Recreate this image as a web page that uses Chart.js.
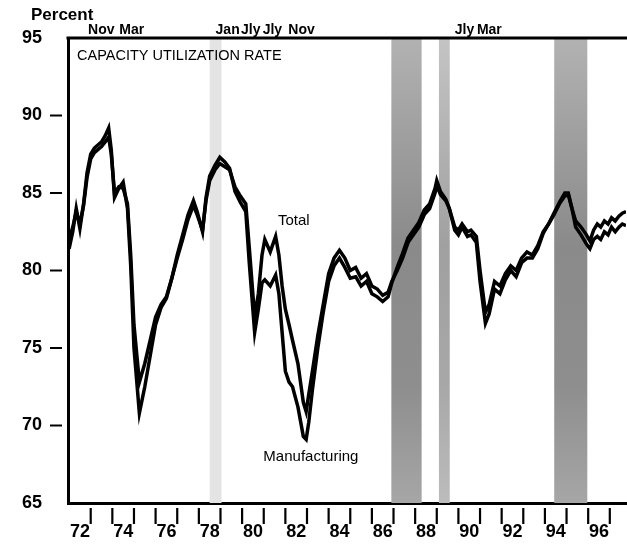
<!DOCTYPE html>
<html><head><meta charset="utf-8">
<script src="https://cdn.jsdelivr.net/npm/chart.js@4.4.0/dist/chart.umd.min.js"></script>
<style>html,body{margin:0;padding:0;background:#fff;overflow:hidden}#wrap{width:627px;height:548px;position:relative}</style>
</head><body><div id="wrap"><canvas id="c" width="627" height="548"></canvas></div>
<script>
// ---- data ----
const dates = [1972.00,1972.17,1972.33,1972.50,1972.67,1972.83,1973.00,1973.17,1973.33,1973.50,1973.67,1973.83,1973.95,1974.10,1974.30,1974.50,1974.70,1974.85,1975.00,1975.25,1975.50,1975.75,1976.00,1976.25,1976.50,1976.75,1977.00,1977.25,1977.50,1977.75,1977.92,1978.17,1978.33,1978.50,1978.75,1978.97,1979.20,1979.42,1979.67,1979.92,1980.17,1980.33,1980.58,1980.75,1980.92,1981.05,1981.30,1981.55,1981.70,1981.85,1982.00,1982.17,1982.33,1982.58,1982.83,1982.96,1983.08,1983.25,1983.50,1983.75,1984.00,1984.25,1984.50,1984.75,1985.00,1985.25,1985.50,1985.75,1986.00,1986.25,1986.50,1986.75,1986.92,1987.17,1987.42,1987.67,1987.92,1988.17,1988.42,1988.67,1988.92,1989.00,1989.17,1989.42,1989.58,1989.83,1990.00,1990.17,1990.42,1990.58,1990.83,1991.00,1991.25,1991.42,1991.67,1991.92,1992.17,1992.42,1992.67,1992.92,1993.17,1993.42,1993.67,1993.92,1994.17,1994.42,1994.67,1994.92,1995.08,1995.25,1995.42,1995.67,1995.92,1996.08,1996.25,1996.42,1996.58,1996.75,1996.92,1997.08,1997.25,1997.42,1997.58,1997.75];
const total = [82.0,82.8,83.8,83.0,84.2,86.0,87.2,87.6,87.8,88.0,88.3,88.6,87.5,85.0,85.4,85.3,84.3,81.0,76.5,72.8,74.0,75.5,77.0,77.8,78.3,79.5,80.8,82.0,83.3,84.2,83.6,82.6,84.5,85.8,86.5,86.9,86.7,86.5,85.4,84.8,84.3,81.5,77.0,78.5,81.0,82.0,81.2,82.2,81.0,79.0,77.5,76.5,75.5,74.0,71.5,70.9,72.0,73.5,75.8,77.8,79.8,80.8,81.3,80.8,80.0,80.2,79.5,79.8,79.0,78.8,78.4,78.6,79.3,80.0,80.8,81.8,82.3,82.8,83.6,84.0,85.0,85.5,84.9,84.5,84.0,82.8,82.6,83.0,82.5,82.6,82.2,80.0,77.3,77.8,79.3,79.0,79.8,80.3,80.0,80.8,81.2,81.0,81.6,82.5,83.0,83.6,84.3,84.8,84.9,84.0,83.2,82.8,82.3,81.9,82.6,83.0,82.8,83.2,83.0,83.4,83.2,83.5,83.7,83.8];
const manufacturing = [81.4,82.5,84.0,82.7,84.3,86.3,87.5,87.9,88.1,88.3,88.7,89.2,87.8,84.7,85.3,85.7,84.0,80.3,75.0,70.8,72.5,74.5,76.5,77.6,78.2,79.5,81.0,82.3,83.6,84.5,83.8,82.5,84.7,86.1,86.8,87.3,87.0,86.6,85.1,84.4,83.8,80.5,76.0,77.5,79.2,79.4,79.0,79.7,78.5,76.0,73.5,72.8,72.5,71.2,69.3,69.1,70.2,72.3,75.0,77.3,79.3,80.3,80.8,80.2,79.5,79.6,79.0,79.3,78.5,78.3,78.0,78.3,79.2,80.2,81.1,82.1,82.6,83.1,83.9,84.3,85.3,85.8,85.1,84.6,84.0,82.6,82.3,82.8,82.2,82.3,81.8,79.3,76.6,77.2,78.8,78.5,79.4,80.0,79.6,80.5,80.8,80.8,81.4,82.4,83.0,83.7,84.4,85.0,85.0,84.0,82.8,82.3,81.7,81.4,82.0,82.2,82.0,82.5,82.3,82.8,82.5,82.8,83.0,82.9];
const yTickValues = [65,70,75,80,85,90,95];
const yTickLabels = ['65','70','75','80','85','90','95'];
const xLabelYears = [1972,1974,1976,1978,1980,1982,1984,1986,1988,1990,1992,1994,1996];
const xTickLabels = ['72','74','76','78','80','82','84','86','88','90','92','94','96'];
const yearTickMarks = [1973,1974,1975,1976,1977,1978,1979,1980,1981,1982,1983,1984,1985,1986,1987,1988,1989,1990,1991,1992,1993,1994,1995,1996,1997];
const bandStart = [1978.50,1986.90,1989.10,1994.43];
const bandEnd   = [1979.05,1988.30,1989.60,1995.96];
const eventText = ['Nov','Mar','Jan','Jly','Jly','Nov','Jly','Mar'];
const eventYear = [1973.49,1974.90,1979.33,1980.40,1981.40,1982.75,1990.28,1991.43];
const seriesNames = ['Total','Manufacturing'];
const seriesNameX = [1982.39,1983.18];
const seriesNameY = [83.2,68.0];
const chartTitle = 'CAPACITY UTILIZATION RATE';
const unitLabel = 'Percent';

// ---- styles ----
const FONT = "'Liberation Sans', Arial, Helvetica, sans-serif";
const bandStyles = ['light','dark','mid','dark'];

const decor = {
  id: 'decor',
  beforeDatasetsDraw(chart) {
    const {ctx, chartArea: a, scales: {x}} = chart;
    ctx.save();
    for (let i = 0; i < bandStart.length; i++) {
      const x1 = x.getPixelForValue(bandStart[i]);
      const x2 = x.getPixelForValue(bandEnd[i]);
      let fill;
      if (bandStyles[i] === 'light') {
        fill = '#e4e4e4';
      } else {
        const g = ctx.createLinearGradient(0, a.top, 0, a.bottom);
        const d = bandStyles[i] === 'dark';
        g.addColorStop(0, d ? '#b2b2b2' : '#c4c4c4');
        g.addColorStop(0.45, d ? '#8a8a8a' : '#a0a0a0');
        g.addColorStop(0.75, d ? '#8e8e8e' : '#a8a8a8');
        g.addColorStop(1, d ? '#a6a6a6' : '#bcbcbc');
        fill = g;
      }
      ctx.fillStyle = fill;
      ctx.fillRect(x1, a.top, x2 - x1, a.bottom - a.top);
    }
    ctx.restore();
  },
  afterDraw(chart) {
    const {ctx, chartArea: a, scales: {x, y}} = chart;
    ctx.save();
    ctx.strokeStyle = '#000';
    // top frame line
    ctx.lineWidth = 3;
    ctx.beginPath();
    ctx.moveTo(a.left - 1.5, a.top);
    ctx.lineTo(chart.width, a.top);
    ctx.stroke();
    // y tick marks (not at ends)
    ctx.lineWidth = 2;
    for (const v of yTickValues) {
      if (v === y.min || v === y.max) continue;
      const py = y.getPixelForValue(v);
      ctx.beginPath();
      ctx.moveTo(a.left - 18, py);
      ctx.lineTo(a.left - 6, py);
      ctx.stroke();
    }
    // x tick marks at year boundaries
    ctx.lineWidth = 2.2;
    for (const yr of yearTickMarks) {
      const px = x.getPixelForValue(yr);
      ctx.beginPath();
      ctx.moveTo(px, a.bottom + 5);
      ctx.lineTo(px, a.bottom + 21);
      ctx.stroke();
    }
    ctx.fillStyle = '#000';
    // unit label
    ctx.font = 'bold 17px ' + FONT;
    ctx.textAlign = 'left';
    ctx.textBaseline = 'alphabetic';
    ctx.fillText(unitLabel, 31, 20);
    // event labels above frame
    ctx.font = 'bold 14px ' + FONT;
    ctx.textAlign = 'center';
    for (let i = 0; i < eventText.length; i++) {
      ctx.fillText(eventText[i], x.getPixelForValue(eventYear[i]), a.top - 4);
    }
    // title inside plot
    ctx.font = '14.5px ' + FONT;
    ctx.textAlign = 'left';
    ctx.fillText(chartTitle, a.left + 9, a.top + 22);
    // series names
    ctx.font = '15px ' + FONT;
    ctx.textAlign = 'center';
    ctx.textBaseline = 'middle';
    for (let i = 0; i < seriesNames.length; i++) {
      ctx.fillText(seriesNames[i], x.getPixelForValue(seriesNameX[i]), y.getPixelForValue(seriesNameY[i]));
    }
    ctx.restore();
  }
};

const mk = (vals) => dates.map((d, i) => ({x: d, y: vals[i]}));

new Chart(document.getElementById('c'), {
  type: 'line',
  data: {
    datasets: [
      {label: seriesNames[0], data: mk(total), borderColor: '#000', borderWidth: 3.5, pointRadius: 0, tension: 0, fill: false},
      {label: seriesNames[1], data: mk(manufacturing), borderColor: '#000', borderWidth: 3.5, pointRadius: 0, tension: 0, fill: false}
    ]
  },
  options: {
    responsive: false,
    animation: false,
    events: [],
    layout: {padding: {top: 38, left: 0, right: 0, bottom: 0}},
    plugins: {legend: {display: false}, tooltip: {enabled: false}, title: {display: false}},
    scales: {
      x: {
        type: 'linear', position: 'bottom', min: 1971.95, max: 1997.75,
        afterFit(s) { s.height = 45; },
        afterBuildTicks(s) { s.ticks = xLabelYears.map(v => ({value: v + 0.5})); },
        grid: {display: false, drawTicks: false},
        border: {display: true, color: '#000', width: 3},
        ticks: {
          autoSkip: false, maxRotation: 0, padding: 18, color: '#000',
          font: {family: FONT, size: 18, weight: 'bold'},
          callback: (v, i) => xTickLabels[i]
        }
      },
      y: {
        min: 65, max: 95,
        afterFit(s) { s.width = 68; },
        afterBuildTicks(s) { s.ticks = yTickValues.map(v => ({value: v})); },
        grid: {display: false, drawTicks: false},
        border: {display: true, color: '#000', width: 3},
        ticks: {
          autoSkip: false, padding: 26, color: '#000',
          font: {family: FONT, size: 18, weight: 'bold'},
          callback: (v, i) => yTickLabels[i]
        }
      }
    }
  },
  plugins: [decor]
});
</script>
</body></html>
